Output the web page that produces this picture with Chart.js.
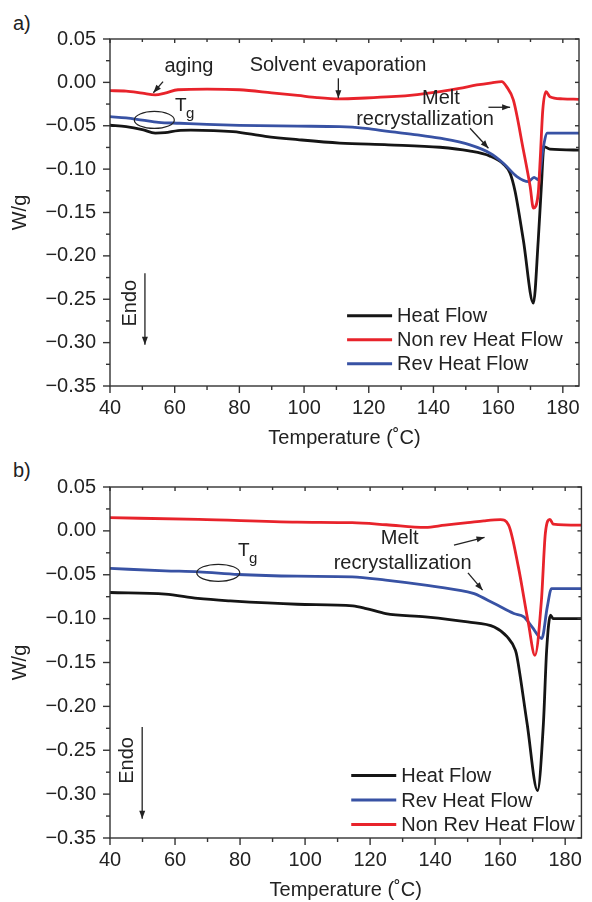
<!DOCTYPE html>
<html>
<head>
<meta charset="utf-8">
<script src="https://cdn.jsdelivr.net/npm/chart.js@4.4.1/dist/chart.umd.min.js"></script>
<style>
  body { margin: 0; background: #fff; }
  #wrap { position: relative; width: 592px; height: 902px; font-family: "Liberation Sans", Arial, sans-serif; color: #222; }
  canvas { position: absolute; left: 0; }
  .panel { position: absolute; left: 13px; font-size: 20px; line-height: 24px; }
</style>
</head>
<body>
<div id="wrap">
  <div class="panel" style="top:11px">a)</div>
  <canvas id="chartA" width="592" height="450" style="top:0"></canvas>
  <div class="panel" style="top:458px">b)</div>
  <canvas id="chartB" width="592" height="452" style="top:450px"></canvas>
</div>
<script>
// axis ticks
var tempTicks = [40, 60, 80, 100, 120, 140, 160, 180];
var wgTicks = [0.05, 0, -0.05, -0.10, -0.15, -0.20, -0.25, -0.30, -0.35];

// panel a) values
var aHeatT = [40, 45, 50, 54, 57, 61, 65, 78, 88, 98, 111, 126, 142, 151, 157.5, 161.6, 163.7, 165.2, 167.8, 170.9, 172.4, 173.3, 174.2, 176, 185];
var aHeat = [-0.0494, -0.0510, -0.0545, -0.0585, -0.0580, -0.0555, -0.0550, -0.0568, -0.0622, -0.0660, -0.0700, -0.0720, -0.0748, -0.0790, -0.0850, -0.0940, -0.1047, -0.125, -0.182, -0.2545, -0.182, -0.124, -0.074, -0.077, -0.078];
var aNonRevT = [40, 45, 50, 54, 57, 61, 70, 80, 90, 98, 104, 111, 119, 127, 135, 142, 148, 153.4, 158, 161.1, 162.6, 164.7, 167.8, 169.9, 170.9, 172.4, 173, 173.8, 174.8, 176, 180, 185];
var aNonRev = [-0.0096, -0.0100, -0.0125, -0.0145, -0.0125, -0.0085, -0.0078, -0.0085, -0.0120, -0.0150, -0.0175, -0.0190, -0.0180, -0.0165, -0.0140, -0.0107, -0.0070, -0.0030, -0.0005, 0.0008, -0.0049, -0.0203, -0.0779, -0.120, -0.145, -0.1278, -0.0894, -0.032, -0.0107, -0.0165, -0.0190, -0.0195];
var aRevT = [40, 45, 50, 55, 61.6, 70, 80, 98, 111, 119, 126.6, 135, 142, 151.3, 157.5, 161.6, 165.8, 169.4, 171.1, 172.4, 174, 175.2, 185];
var aRev = [-0.0395, -0.0410, -0.0435, -0.0460, -0.0471, -0.0485, -0.0495, -0.0505, -0.0510, -0.0530, -0.0568, -0.0605, -0.0644, -0.0721, -0.0817, -0.0932, -0.1086, -0.1144, -0.1094, -0.1124, -0.074, -0.0586, -0.0586];

// panel b) values
var bHeatT = [40, 57, 67, 77, 97.6, 114.7, 118.8, 124.8, 137, 150, 158.2, 162.2, 164.7, 165.2, 168.3, 171.5, 173.3, 174.3, 175.5, 176.3, 185];
var bHeat = [-0.0702, -0.0721, -0.0770, -0.0798, -0.0836, -0.0855, -0.0885, -0.0942, -0.0980, -0.1038, -0.1095, -0.1209, -0.136, -0.1437, -0.2198, -0.2959, -0.2198, -0.136, -0.096, -0.100, -0.100];
var bRevT = [40, 57, 67.3, 79.4, 97.6, 114.5, 124.8, 137, 150, 152, 158.2, 164.2, 167.3, 169.8, 172.8, 174.5, 175.8, 185];
var bRev = [-0.0428, -0.0455, -0.0467, -0.0497, -0.0516, -0.0524, -0.0562, -0.0619, -0.0695, -0.0715, -0.0828, -0.0942, -0.0980, -0.1095, -0.1227, -0.0866, -0.0657, -0.0657];
var bNonRevT = [40, 67.3, 97.6, 114.5, 125, 137, 143, 150, 155, 160.1, 162.6, 165.6, 168.7, 170.7, 172.7, 173.9, 175.3, 176.3, 185];
var bNonRev = [0.0150, 0.0131, 0.0100, 0.0093, 0.0070, 0.0040, 0.0066, 0.0093, 0.0115, 0.0128, 0.0066, -0.041, -0.1056, -0.1418, -0.079, -0.0029, 0.0131, 0.0078, 0.0066];

var BLACK = '#151515', RED = '#e8232b', BLUE = '#3852a4', INK = '#222';
var FONT = '"Liberation Sans", Arial, sans-serif';

function pts(xs, ys) {
  return xs.map(function (t, i) { return { x: t, y: ys[i] }; });
}

function series(label, xs, ys, color, order) {
  return {
    label: label,
    data: pts(xs, ys),
    borderColor: color,
    backgroundColor: color,
    borderWidth: 2.8,
    pointRadius: 0,
    cubicInterpolationMode: 'monotone',
    order: order
  };
}

function arrowHead(ctx, x1, y1, x2, y2) {
  var ang = Math.atan2(y2 - y1, x2 - x1);
  var len = 8, w = 3;
  ctx.beginPath();
  ctx.moveTo(x2, y2);
  ctx.lineTo(x2 - len * Math.cos(ang) + w * Math.sin(ang), y2 - len * Math.sin(ang) - w * Math.cos(ang));
  ctx.lineTo(x2 - len * Math.cos(ang) - w * Math.sin(ang), y2 - len * Math.sin(ang) + w * Math.cos(ang));
  ctx.closePath();
  ctx.fill();
}

// frame, minor/mirror ticks, annotations and legend
var deco = {
  id: 'deco',
  afterDraw: function (chart, args, opts) {
    var ctx = chart.ctx, a = chart.chartArea;
    var sx = chart.scales.x, sy = chart.scales.y;
    ctx.save();
    ctx.strokeStyle = '#333';
    ctx.lineWidth = 1.4;
    ctx.strokeRect(a.left, a.top, a.right - a.left, a.bottom - a.top);

    function seg(x1, y1, x2, y2) {
      ctx.beginPath(); ctx.moveTo(x1, y1); ctx.lineTo(x2, y2); ctx.stroke();
    }
    var t, v, px, py, major;
    for (t = 40; t <= 185; t += 10) {
      px = sx.getPixelForValue(t);
      major = t % 20 === 0;
      seg(px, a.bottom, px, a.bottom + (major ? 7 : 4));
      seg(px, a.top, px, a.top + (major ? 4 : 3));
    }
    for (var i = 0; i <= 16; i++) {
      v = 0.05 - i * 0.025;
      py = sy.getPixelForValue(v);
      major = i % 2 === 0;
      seg(a.left, py, a.left - (major ? 7 : 4), py);
      seg(a.right, py, a.right - (major ? 4 : 3), py);
    }

    ctx.fillStyle = INK;
    ctx.strokeStyle = INK;
    ctx.textBaseline = 'middle';
    opts.notes.forEach(function (n) {
      if (n.type === 'text') {
        ctx.font = '20px ' + FONT;
        ctx.textAlign = 'center';
        ctx.fillText(n.text, sx.getPixelForValue(n.x), sy.getPixelForValue(n.y));
      } else if (n.type === 'vtext') {
        ctx.save();
        ctx.font = '20px ' + FONT;
        ctx.textAlign = 'center';
        ctx.translate(sx.getPixelForValue(n.x), sy.getPixelForValue(n.y));
        ctx.rotate(-Math.PI / 2);
        ctx.fillText(n.text, 0, 0);
        ctx.restore();
      } else if (n.type === 'tg') {
        px = sx.getPixelForValue(n.x);
        py = sy.getPixelForValue(n.y);
        ctx.textAlign = 'left';
        ctx.font = '19px ' + FONT;
        ctx.fillText('T', px, py);
        ctx.font = '15px ' + FONT;
        ctx.fillText('g', px + 11, py + 8);
      } else if (n.type === 'arrow') {
        var x1 = sx.getPixelForValue(n.x1), y1 = sy.getPixelForValue(n.y1);
        var x2 = sx.getPixelForValue(n.x2), y2 = sy.getPixelForValue(n.y2);
        ctx.lineWidth = 1.3;
        seg(x1, y1, x2, y2);
        arrowHead(ctx, x1, y1, x2, y2);
      } else if (n.type === 'ellipse') {
        ctx.lineWidth = 1.2;
        ctx.beginPath();
        ctx.ellipse(sx.getPixelForValue(n.x), sy.getPixelForValue(n.y), n.rx, n.ry, 0, 0, Math.PI * 2);
        ctx.stroke();
      }
    });

    // legend
    var lg = opts.legend;
    var lx = sx.getPixelForValue(lg.x), ly = sy.getPixelForValue(lg.y);
    ctx.font = '20px ' + FONT;
    ctx.textAlign = 'left';
    chart.data.datasets.forEach(function (ds, k) {
      var yy = ly + k * lg.gap;
      ctx.strokeStyle = ds.borderColor;
      ctx.lineWidth = 3;
      seg(lx, yy, lx + 45, yy);
      ctx.fillStyle = INK;
      ctx.fillText(ds.label, lx + 50, yy + 1);
    });
    ctx.restore();
  }
};

function makeChart(id, datasets, padRight, padTop, notes, legend) {
  return new Chart(document.getElementById(id), {
    type: 'line',
    data: { datasets: datasets },
    plugins: [deco],
    options: {
      responsive: false,
      animation: false,
      devicePixelRatio: 1,
      layout: { padding: { left: 0, right: padRight, top: padTop, bottom: 0 } },
      plugins: {
        legend: { display: false },
        tooltip: { enabled: false },
        deco: { notes: notes, legend: legend }
      },
      scales: {
        x: {
          type: 'linear',
          min: 40,
          max: 185,
          afterBuildTicks: function (s) { s.ticks = tempTicks.map(function (v) { return { value: v }; }); },
          afterFit: function (s) { s.height = 64; },
          grid: { display: false, drawTicks: false },
          border: { display: false },
          ticks: { padding: 10, color: INK, font: { family: FONT, size: 20 }, maxRotation: 0, autoSkip: false },
          title: { display: true, text: 'Temperature (˚C)', color: INK, font: { family: FONT, size: 20 }, padding: { top: 0, bottom: 0 } }
        },
        y: {
          type: 'linear',
          min: -0.35,
          max: 0.05,
          afterBuildTicks: function (s) { s.ticks = wgTicks.map(function (v) { return { value: v }; }); },
          afterFit: function (s) { s.width = 110; },
          grid: { display: false, drawTicks: false },
          border: { display: false },
          ticks: {
            padding: 14,
            color: INK,
            font: { family: FONT, size: 20 },
            autoSkip: false,
            callback: function (v) {
              var s = Math.abs(v).toFixed(2);
              return v < -1e-9 ? '\u2212' + s : s;
            }
          },
          title: { display: true, text: 'W/g', color: INK, font: { family: FONT, size: 20 }, padding: { top: 8, bottom: 0 } }
        }
      }
    }
  });
}

makeChart('chartA', [
  series('Heat Flow', aHeatT, aHeat, BLACK, 3),
  series('Non rev Heat Flow', aNonRevT, aNonRev, RED, 1),
  series('Rev Heat Flow', aRevT, aRev, BLUE, 2)
], 13, 39, [
  { type: 'text', text: 'aging', x: 64.4, y: 0.018 },
  { type: 'arrow', x1: 56.4, y1: 0.0008, x2: 53.4, y2: -0.0119 },
  { type: 'tg', x: 60.1, y: -0.0272 },
  { type: 'ellipse', x: 53.7, y: -0.0433, rx: 20, ry: 8.5 },
  { type: 'text', text: 'Solvent evaporation', x: 110.5, y: 0.02 },
  { type: 'arrow', x1: 110.6, y1: 0.0047, x2: 110.6, y2: -0.0183 },
  { type: 'text', text: 'Melt', x: 142.3, y: -0.0191 },
  { type: 'arrow', x1: 157, y1: -0.0287, x2: 163.7, y2: -0.0287 },
  { type: 'text', text: 'recrystallization', x: 137.4, y: -0.0433 },
  { type: 'arrow', x1: 151.3, y1: -0.0529, x2: 157, y2: -0.0759 },
  { type: 'vtext', text: 'Endo', x: 46.2, y: -0.2545 },
  { type: 'arrow', x1: 50.8, y1: -0.22, x2: 50.8, y2: -0.3025 }
], { x: 113.3, y: -0.269, gap: 24 });

makeChart('chartB', [
  series('Heat Flow', bHeatT, bHeat, BLACK, 3),
  series('Rev Heat Flow', bRevT, bRev, BLUE, 2),
  series('Non Rev Heat Flow', bNonRevT, bNonRev, RED, 1)
], 4, 37, [
  { type: 'tg', x: 79.4, y: -0.023 },
  { type: 'ellipse', x: 73.3, y: -0.0478, rx: 21.5, ry: 8.5 },
  { type: 'text', text: 'Melt', x: 129.1, y: -0.0086 },
  { type: 'arrow', x1: 145.8, y1: -0.0162, x2: 155.2, y2: -0.0074 },
  { type: 'text', text: 'recrystallization', x: 130, y: -0.0371 },
  { type: 'arrow', x1: 150.1, y1: -0.0478, x2: 154.6, y2: -0.0676 },
  { type: 'vtext', text: 'Endo', x: 45.5, y: -0.2616 },
  { type: 'arrow', x1: 49.9, y1: -0.2236, x2: 49.9, y2: -0.3282 }
], { x: 114.2, y: -0.2788, gap: 24.5 });
</script>
</body>
</html>
